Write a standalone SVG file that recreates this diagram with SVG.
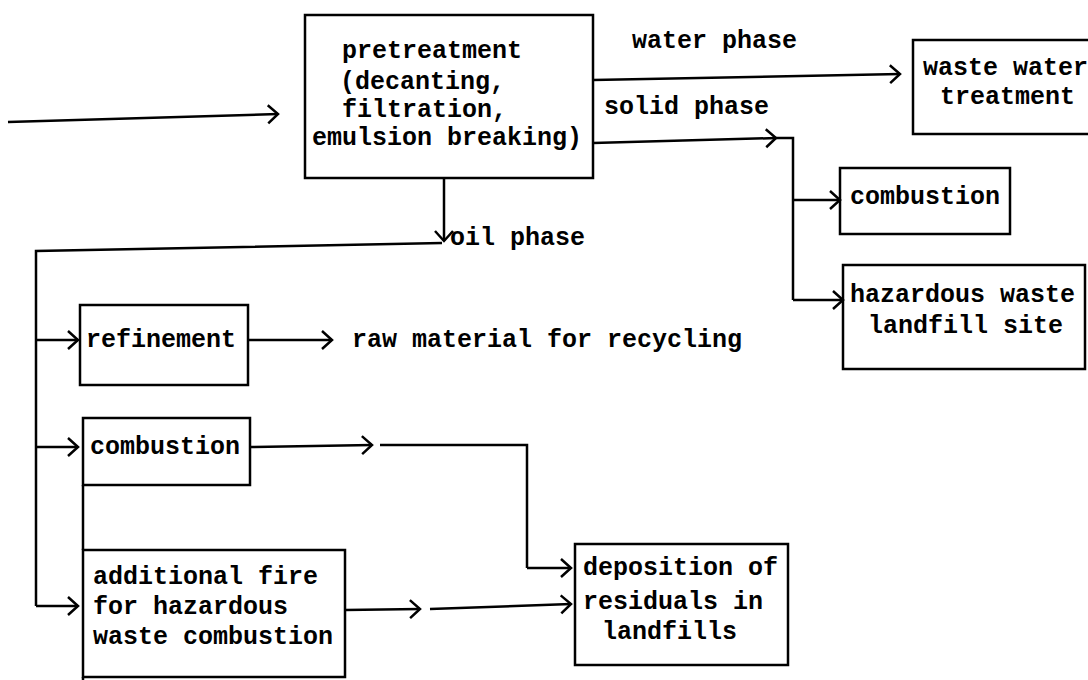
<svg xmlns="http://www.w3.org/2000/svg" width="1088" height="680" viewBox="0 0 1088 680">
<style>
.box{fill:none;stroke:#000;stroke-width:2.5}
.ln{fill:none;stroke:#000;stroke-width:2.5}
.arr{marker-end:url(#ah)}
text{font-family:"Liberation Mono","DejaVu Sans Mono",monospace;font-size:25px;font-weight:bold;fill:#000}
</style>
<defs>
<marker id="ah" markerWidth="20" markerHeight="24" refX="14" refY="12" orient="auto" markerUnits="userSpaceOnUse">
<path d="M4,3 L14,12 L4,21" fill="none" stroke="#000" stroke-width="2.5"/>
</marker>
</defs>
<rect width="1088" height="680" fill="#fff"/>
<g id="connectors">
<path class="ln arr" d="M8,122 L278,114"/>
<path class="ln arr" d="M593,80 L900,74"/>
<path class="ln arr" d="M593,143 L776,138"/>
<path class="ln" d="M776,138 L793,138 L793,300"/>
<path class="ln arr" d="M793,200 L840,200"/>
<path class="ln arr" d="M793,300 L843,300"/>
<path class="ln arr" d="M444,178 L444,241"/>
<path class="ln" d="M442,243 L36,251 L36,606"/>
<path class="ln arr" d="M36,606 L78,606"/>
<path class="ln arr" d="M36,340 L78,340"/>
<path class="ln arr" d="M36,447 L78,447"/>
<path class="ln arr" d="M248,340 L332,340"/>
<path class="ln arr" d="M250,447 L372,445"/>
<path class="ln" d="M380,445 L527,445 L527,568"/>
<path class="ln arr" d="M527,568 L571,568"/>
<path class="ln arr" d="M345,610 L420,609"/>
<path class="ln arr" d="M430,609 L571,604"/>
<path class="ln" d="M83,485 L83,550"/>
</g>
<g id="pretreatment">
<rect class="box" x="305" y="15" width="288" height="163"/>
<text x="342" y="58">pretreatment</text>
<text x="340" y="89">(decanting,</text>
<text x="342" y="117">filtration,</text>
<text x="312" y="145">emulsion breaking)</text>
</g>
<g id="label-water"><text x="632" y="48">water phase</text></g>
<g id="label-solid"><text x="604" y="114">solid phase</text></g>
<g id="label-oil"><text x="450" y="245">oil phase</text></g>
<g id="wastewater">
<rect class="box" x="913" y="40" width="180" height="94"/>
<text x="923" y="75">waste water</text>
<text x="940" y="104">treatment</text>
</g>
<g id="combustion-solid">
<rect class="box" x="840" y="168" width="170" height="66"/>
<text x="850" y="204">combustion</text>
</g>
<g id="hazardous-landfill">
<rect class="box" x="843" y="265" width="242" height="104"/>
<text x="850" y="302">hazardous waste</text>
<text x="868" y="333">landfill site</text>
</g>
<g id="refinement">
<rect class="box" x="80" y="305" width="168" height="80"/>
<text x="86" y="347">refinement</text>
</g>
<g id="raw-material"><text x="352" y="347">raw material for recycling</text></g>
<g id="combustion-oil">
<rect class="box" x="83" y="418" width="167" height="67"/>
<text x="90" y="454">combustion</text>
</g>
<g id="additional-fire">
<rect class="box" x="83" y="550" width="262" height="127"/>
<path class="ln" d="M83,677 L83,680"/>
<text x="93" y="584">additional fire</text>
<text x="93" y="614">for hazardous</text>
<text x="93" y="644">waste combustion</text>
</g>
<g id="deposition">
<rect class="box" x="575" y="544" width="213" height="121"/>
<text x="583" y="575">deposition of</text>
<text x="583" y="609">residuals in</text>
<text x="602" y="639">landfills</text>
</g>
</svg>
